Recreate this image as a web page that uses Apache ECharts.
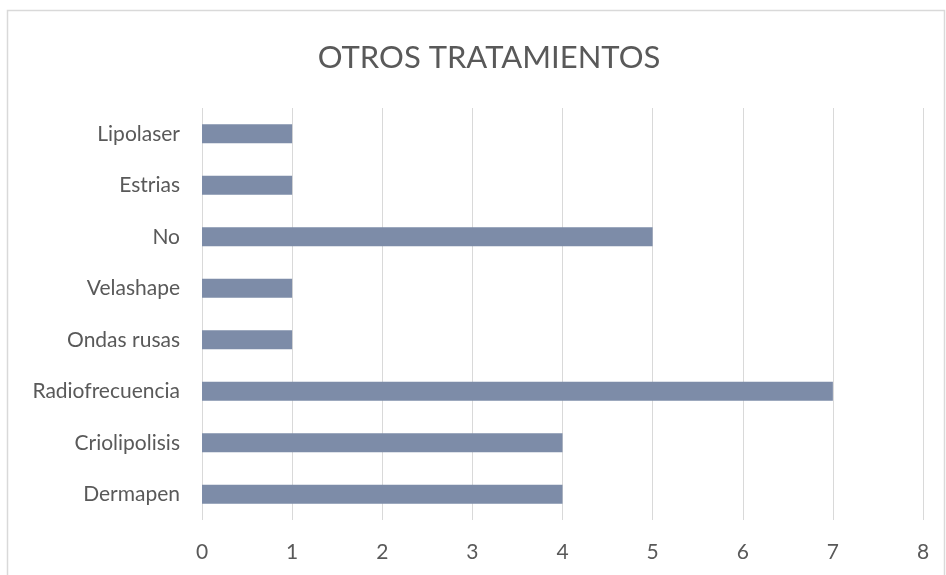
<!DOCTYPE html>
<html>
<head>
<meta charset="utf-8">
<script src="https://cdn.jsdelivr.net/npm/echarts@6/dist/echarts.min.js"></script>
<style>
    html, body { margin: 0; padding: 0; background: #fff; }
    #chart { width: 946px; height: 575px; }
</style>
</head>
<body>
<div id="chart"></div>
<script>
// categorias de abajo hacia arriba
var categories = ["Dermapen", "Criolipolisis", "Radiofrecuencia", "Ondas rusas", "Velashape", "No", "Estrias", "Lipolaser"];
var values = [4, 4, 7, 1, 1, 5, 1, 1];
var xTicks = [0, 1, 2, 3, 4, 5, 6, 7, 8];

var chart = echarts.init(document.getElementById("chart"));
var font = "Lato, 'Open Sans', sans-serif";

var option = {
    animation: false,
    title: {
        text: "OTROS TRATAMIENTOS",
        left: 484,
        textAlign: "center",
        top: 37,
        textStyle: { fontFamily: font, fontSize: 31, fontWeight: "normal", color: "#595959" }
    },
    graphic: [{
        type: "rect",
        shape: { x: 7.5, y: 10.5, width: 937, height: 600 },
        style: { fill: "none", stroke: "#d9d9d9", lineWidth: 1.5 },
        silent: true
    }],
    grid: { left: 202, right: 23, top: 108, bottom: 55 },
    xAxis: {
        type: "value",
        min: xTicks[0],
        max: xTicks[xTicks.length - 1],
        interval: 1,
        axisLine: { show: false },
        axisTick: { show: false },
        splitLine: { lineStyle: { color: "#d9d9d9", width: 1 } },
        axisLabel: { margin: 22, fontFamily: font, fontSize: 21, color: "#595959" }
    },
    yAxis: {
        type: "category",
        data: categories,
        axisLine: { show: false },
        axisTick: { show: false },
        axisLabel: { margin: 22, fontFamily: font, fontSize: 21, color: "#595959" }
    },
    series: [{
        type: "bar",
        data: values,
        barWidth: 19,
        itemStyle: { color: "#7d8ca8" }
    }]
};
chart.setOption(option);
</script>
</body>
</html>
